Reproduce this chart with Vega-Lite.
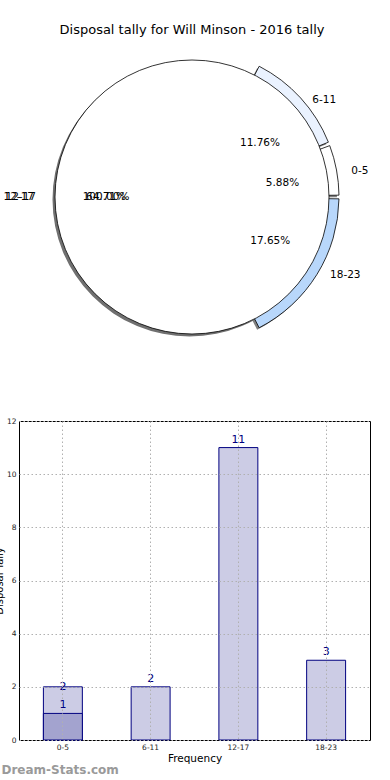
{
  "$schema": "https://vega.github.io/schema/vega-lite/v6.json",
  "background": "white",
  "padding": {"left": -7, "top": 24, "right": 0, "bottom": 0},
  "spacing": 70,
  "resolve": {"scale": {"color": "independent"}},
  "config": {"font": "DejaVu Sans", "view": {"stroke": null}},
  "datasets": {
    "pie": [
      {"bin": "0-5", "count": 1, "pct": "5.88%", "order": 1},
      {"bin": "6-11", "count": 2, "pct": "11.76%", "order": 2},
      {"bin": "12-17", "count": 11, "pct": "64.71%", "order": 3},
      {"bin": "18-23", "count": 3, "pct": "17.65%", "order": 4}
    ],
    "full": [
      {"bin": "12-17", "count": 17, "pct": "100.00%"}
    ],
    "bars": [
      {"bin": "0-5", "count": 2, "series": "a"},
      {"bin": "6-11", "count": 2, "series": "a"},
      {"bin": "12-17", "count": 11, "series": "a"},
      {"bin": "18-23", "count": 3, "series": "a"},
      {"bin": "0-5", "count": 1, "series": "b"}
    ]
  },
  "vconcat": [
    {
      "width": 346,
      "height": 296,
      "title": {"text": "Disposal tally for Will Minson - 2016 tally", "fontSize": 13, "fontWeight": "normal", "color": "#000", "frame": "group", "anchor": "middle", "offset": 12},
      "layer": [
        {
          "data": {"name": "pie"},
          "mark": {"type": "arc", "radius": 147, "padAngle": 0.025, "color": "#7f7f7f", "xOffset": -2, "yOffset": 2},
          "encoding": {
            "theta": {"field": "count", "type": "quantitative", "stack": true, "scale": {"range": [1.5708, -4.7124]}},
            "order": {"field": "order", "type": "quantitative"},
            "opacity": {"condition": {"test": "datum.bin === '12-17'", "value": 0}, "value": 1}
          }
        },
        {
          "data": {"name": "full"},
          "mark": {"type": "arc", "radius": 137, "color": "#707070", "xOffset": -2.5, "yOffset": 2.5},
          "encoding": {
            "theta": {"field": "count", "type": "quantitative", "stack": true}
          }
        },
        {
          "data": {"name": "pie"},
          "mark": {"type": "arc", "radius": 147, "padAngle": 0.025, "stroke": "#000", "strokeWidth": 0.8},
          "encoding": {
            "theta": {"field": "count", "type": "quantitative", "stack": true},
            "order": {"field": "order", "type": "quantitative"},
            "color": {"field": "bin", "type": "nominal", "scale": {"domain": ["0-5", "6-11", "12-17", "18-23"], "range": ["#ffffff", "#eaf2ff", "#ffffff", "#b8d7fb"]}, "legend": null},
            "opacity": {"condition": {"test": "datum.bin === '12-17'", "value": 0}, "value": 1}
          }
        },
        {
          "data": {"name": "full"},
          "mark": {"type": "arc", "radius": 137, "fill": "#ffffff", "stroke": "#000", "strokeWidth": 0.8},
          "encoding": {
            "theta": {"field": "count", "type": "quantitative", "stack": true}
          }
        },
        {
          "data": {"name": "pie"},
          "mark": {"type": "text", "radius": 160, "dx": 2, "dy": 11, "align": "left", "baseline": "middle", "fontSize": 10.5, "color": "#000"},
          "encoding": {
            "theta": {"field": "count", "type": "quantitative", "stack": true},
            "order": {"field": "order", "type": "quantitative"},
            "text": {"condition": {"test": "datum.bin === '6-11'", "field": "bin", "type": "nominal"}, "value": ""}
          }
        },
        {
          "data": {"name": "pie"},
          "mark": {"type": "text", "radius": 160, "dx": 2, "dy": 3, "align": "left", "baseline": "middle", "fontSize": 10.5, "color": "#000"},
          "encoding": {
            "theta": {"field": "count", "type": "quantitative", "stack": true},
            "order": {"field": "order", "type": "quantitative"},
            "text": {"condition": {"test": "datum.bin === '0-5'", "field": "bin", "type": "nominal"}, "value": ""}
          }
        },
        {
          "data": {"name": "pie"},
          "mark": {"type": "text", "radius": 160, "dx": 2, "dy": -6, "align": "left", "baseline": "middle", "fontSize": 10.5, "color": "#000"},
          "encoding": {
            "theta": {"field": "count", "type": "quantitative", "stack": true},
            "order": {"field": "order", "type": "quantitative"},
            "text": {"condition": {"test": "datum.bin === '18-23'", "field": "bin", "type": "nominal"}, "value": ""}
          }
        },
        {
          "data": {"name": "pie"},
          "mark": {"type": "text", "radius": 156, "align": "right", "baseline": "middle", "fontSize": 10.5, "color": "#000"},
          "encoding": {
            "theta": {"field": "count", "type": "quantitative", "stack": true},
            "order": {"field": "order", "type": "quantitative"},
            "text": {"condition": {"test": "datum.bin === '12-17'", "field": "bin", "type": "nominal"}, "value": ""}
          }
        },
        {
          "data": {"name": "full"},
          "mark": {"type": "text", "radius": 158, "align": "right", "baseline": "middle", "fontSize": 10.5, "color": "#000"},
          "encoding": {
            "theta": {"field": "count", "type": "quantitative", "stack": true},
            "text": {"field": "bin", "type": "nominal"}
          }
        },
        {
          "data": {"name": "pie"},
          "mark": {"type": "text", "radius": 92, "dy": 8, "align": "center", "baseline": "middle", "fontSize": 10.5, "color": "#000"},
          "encoding": {
            "theta": {"field": "count", "type": "quantitative", "stack": true},
            "order": {"field": "order", "type": "quantitative"},
            "text": {"condition": {"test": "datum.bin === '6-11'", "field": "pct", "type": "nominal"}, "value": ""}
          }
        },
        {
          "data": {"name": "pie"},
          "mark": {"type": "text", "radius": 92, "dy": 3, "align": "center", "baseline": "middle", "fontSize": 10.5, "color": "#000"},
          "encoding": {
            "theta": {"field": "count", "type": "quantitative", "stack": true},
            "order": {"field": "order", "type": "quantitative"},
            "text": {"condition": {"test": "datum.bin === '0-5'", "field": "pct", "type": "nominal"}, "value": ""}
          }
        },
        {
          "data": {"name": "pie"},
          "mark": {"type": "text", "radius": 92, "dy": -4, "align": "center", "baseline": "middle", "fontSize": 10.5, "color": "#000"},
          "encoding": {
            "theta": {"field": "count", "type": "quantitative", "stack": true},
            "order": {"field": "order", "type": "quantitative"},
            "text": {"condition": {"test": "datum.bin === '18-23'", "field": "pct", "type": "nominal"}, "value": ""}
          }
        },
        {
          "data": {"name": "pie"},
          "mark": {"type": "text", "radius": 86, "align": "center", "baseline": "middle", "fontSize": 10.5, "color": "#000"},
          "encoding": {
            "theta": {"field": "count", "type": "quantitative", "stack": true},
            "order": {"field": "order", "type": "quantitative"},
            "text": {"condition": {"test": "datum.bin === '12-17'", "field": "pct", "type": "nominal"}, "value": ""}
          }
        },
        {
          "data": {"name": "full"},
          "mark": {"type": "text", "radius": 86, "align": "center", "baseline": "middle", "fontSize": 10.5, "color": "#000"},
          "encoding": {
            "theta": {"field": "count", "type": "quantitative", "stack": true},
            "text": {"field": "pct", "type": "nominal"}
          }
        }
      ]
    },
    {
      "width": 351,
      "height": 319,
      "data": {"name": "bars"},
      "view": {"stroke": "#000", "strokeWidth": 1},
      "title": {"text": "Dream-Stats.com", "orient": "bottom", "anchor": "start", "frame": "bounds", "color": "#9a9a9a", "fontSize": 12, "fontWeight": "bold", "offset": 1, "dx": 7},
      "encoding": {
        "x": {
          "field": "bin", "type": "ordinal", "sort": ["0-5", "6-11", "12-17", "18-23"],
          "scale": {"paddingInner": 0.556, "paddingOuter": 0.278},
          "axis": {"title": "Frequency", "titleFontSize": 10.5, "titleFontWeight": "normal", "titleColor": "#000", "titlePadding": 3, "labelAngle": 0, "labelFontSize": 7.5, "labelColor": "#222", "labelPadding": 3, "ticks": false, "domain": false, "grid": true, "bandPosition": 0.5, "gridColor": "#b0b0b0", "gridDash": [1.5, 2.5], "gridWidth": 1, "zindex": 1}
        },
        "y": {
          "field": "count", "type": "quantitative", "stack": null,
          "scale": {"domain": [0, 12], "nice": false},
          "axis": {"title": "Disposal Tally", "titleFontSize": 10, "titleFontWeight": "normal", "titleColor": "#000", "titlePadding": 2, "values": [0, 2, 4, 6, 8, 10, 12], "labelFontSize": 7.5, "labelColor": "#222", "labelPadding": 3, "ticks": false, "domain": false, "grid": true, "gridColor": "#b0b0b0", "gridDash": [1.5, 2.5], "gridWidth": 1, "zindex": 1}
        }
      },
      "layer": [
        {
          "mark": {"type": "bar", "stroke": "#000080", "strokeWidth": 1},
          "encoding": {
            "color": {"field": "series", "type": "nominal", "scale": {"domain": ["a", "b"], "range": ["#ccccE5", "#a3a3cf"]}, "legend": null}
          }
        },
        {
          "transform": [{"filter": "!(datum.bin === '0-5' && datum.series === 'a')"}],
          "mark": {"type": "text", "dy": -8, "fontSize": 11, "color": "#000080", "baseline": "middle"},
          "encoding": {"text": {"field": "count", "type": "quantitative"}}
        },
        {
          "transform": [{"filter": "datum.bin === '0-5' && datum.series === 'a'"}],
          "mark": {"type": "text", "dy": 0, "fontSize": 11, "color": "#000080", "baseline": "middle"},
          "encoding": {"text": {"field": "count", "type": "quantitative"}}
        }
      ]
    }
  ]
}
